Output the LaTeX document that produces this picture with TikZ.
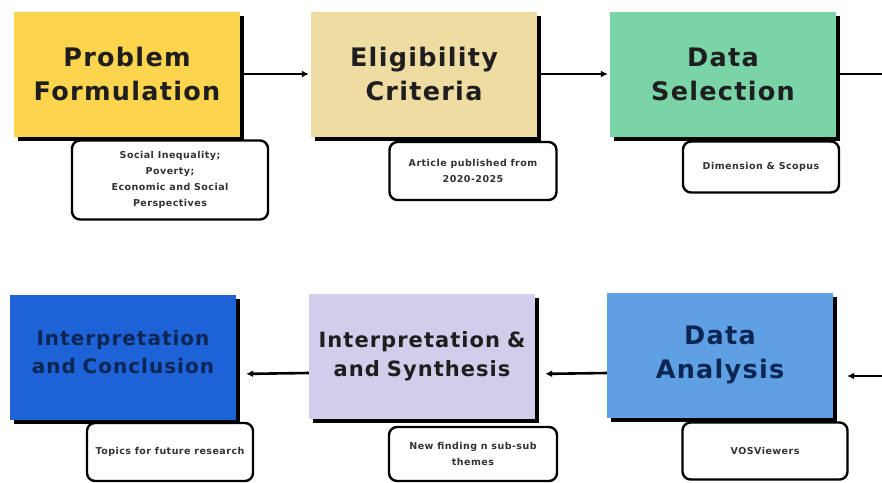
\documentclass[tikz,border=0pt]{standalone}
\usepackage{fontspec}
\setmainfont{DejaVu Sans}
\newfontfamily\boxfont[LetterSpace=5]{DejaVu Sans}
\usetikzlibrary{arrows.meta,shadows}
\definecolor{cyellow}{HTML}{FDD44E}
\definecolor{cbeige}{HTML}{EEDCA3}
\definecolor{cgreen}{HTML}{7AD4A8}
\definecolor{cdblue}{HTML}{1E62D8}
\definecolor{clilac}{HTML}{D3CCEA}
\definecolor{cmblue}{HTML}{5FA0E5}
\definecolor{cnavy}{HTML}{0C2653}
\definecolor{cink}{HTML}{1E1E1E}
\begin{document}
\begin{tikzpicture}[x=1pt, y=-1pt, line join=round, >={Latex[length=7pt,width=7pt]},
	stage/.style={fill=#1, minimum width=226pt, minimum height=125pt, inner sep=0pt, text width=222pt, align=center, text=cink,
		font=\boxfont\bfseries\fontsize{25.5}{34}\selectfont, drop shadow={shadow xshift=4pt, shadow yshift=-4pt, fill=black, opacity=1}},
	note/.style={draw, fill=white, line width=2.4pt, rounded corners=8pt, inner sep=0pt, align=center, text=black!80,
		font=\boxfont\bfseries\fontsize{9.5}{16}\selectfont},
	flow/.style={->, line width=2.6pt}]
	\useasboundingbox (0,0) rectangle (882,482);
	% top row
	\node[stage=cyellow] (pf) at (127,74) {Problem\\Formulation};
	\node[stage=cbeige] (ec) at (424,74) {Eligibility\\Criteria};
	\node[stage=cgreen] (ds) at (723,74) {Data\\Selection};
	\node[note, minimum width=196pt, minimum height=79pt] (pfn) at (170,180) {Social Inequality;\\Poverty;\\Economic and Social\\Perspectives};
	\node[note, minimum width=167pt, minimum height=58pt] (ecn) at (473,171) {Article published from\\2020-2025};
	\node[note, minimum width=156pt, minimum height=51pt] (dsn) at (761,167) {Dimension \& Scopus};
	% bottom row
	\node[stage=cdblue, text=cnavy, font=\boxfont\bfseries\fontsize{20}{28}\selectfont] (ic) at (123,357) {Interpretation\\and Conclusion\\[-18pt]\mbox{}};
	\node[stage=clilac, font=\boxfont\bfseries\fontsize{21}{29}\selectfont] (is) at (422,356) {Interpretation \&\\and Synthesis};
	\node[stage=cmblue, text=cnavy] (da) at (720,355) {Data\\Analysis};
	\node[note, minimum width=166pt, minimum height=58pt] (icn) at (170,452) {Topics for future research};
	\node[note, minimum width=168pt, minimum height=54pt] (isn) at (473,454) {New finding n sub-sub\\themes};
	\node[note, minimum width=165pt, minimum height=57pt] (dan) at (765,451) {VOSViewers};
	% connectors
	\coordinate (outR) at (882,72);
	\coordinate (inR) at (882,376);
	\draw[flow, shorten >=2pt] (pf) -- (ec);
	\draw[flow, shorten >=2pt] (ec) -- (ds);
	\draw[line width=2.6pt] (ds.east) -- (ds.east -| outR);
	\draw[flow, shorten >=14pt] (inR) -- (inR -| da.east);
	\draw[flow, shorten >=10pt] ([yshift=-18pt]da.west) -- ([yshift=-18pt]is.east);
	\draw[flow, shorten >=10pt] ([yshift=-17pt]is.west) -- ([yshift=-17pt]ic.east);
\end{tikzpicture}
\end{document}
